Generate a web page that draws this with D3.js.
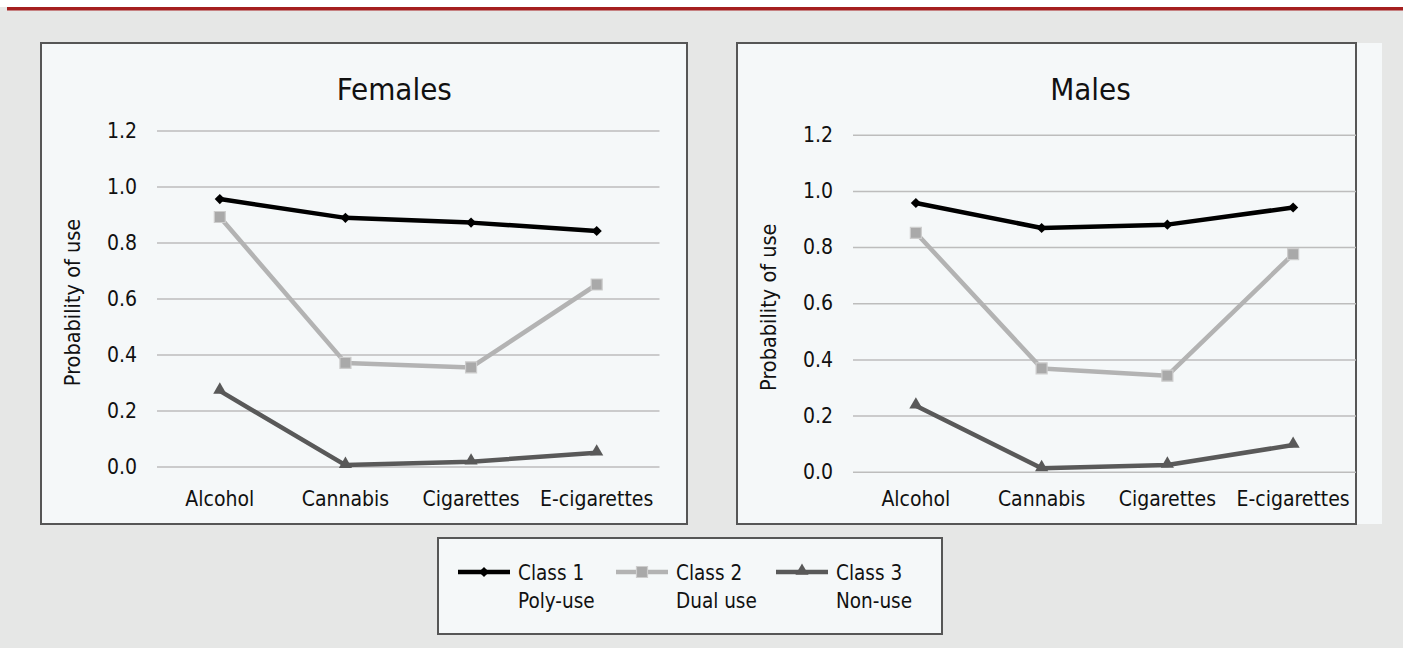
<!DOCTYPE html>
<html>
<head>
<meta charset="utf-8">
<script src="https://cdn.jsdelivr.net/npm/d3@7"></script>
<style>
  html, body { margin: 0; padding: 0; background: #e6e7e6; }
  svg { display: block; }
  text { font-family: "DejaVu Sans", sans-serif; font-stretch: condensed; fill: #111; }
</style>
</head>
<body>
<svg id="chart" width="1403" height="648"></svg>
<script>
// data
var categories = ["Alcohol", "Cannabis", "Cigarettes", "E-cigarettes"];
var yTicks = [0, 0.2, 0.4, 0.6, 0.8, 1.0, 1.2];
var classNames = ["Class 1", "Class 2", "Class 3"];
var classDesc = ["Poly-use", "Dual use", "Non-use"];

var femalesClass1 = [0.955, 0.888, 0.871, 0.841];
var femalesClass2 = [0.891, 0.370, 0.354, 0.650];
var femalesClass3 = [0.270, 0.005, 0.017, 0.049];

var malesClass1 = [0.957, 0.868, 0.880, 0.941];
var malesClass2 = [0.851, 0.368, 0.342, 0.775];
var malesClass3 = [0.235, 0.012, 0.024, 0.095];

var styles = [
	{ line: "#000000", marker: "diamond", fill: "#000000", stroke: "none" },
	{ line: "#b3b3b3", marker: "square", fill: "#a9a9a9", stroke: "#cdcdcd" },
	{ line: "#595959", marker: "triangle", fill: "#595959", stroke: "none" }
];

var svg = d3.select("#chart");

// top rule
svg.append("rect").attr("x", 0).attr("y", 0).attr("width", 1403).attr("height", 7).attr("fill", "#ffffff");
svg.append("rect").attr("x", 7).attr("y", 7).attr("width", 1396).attr("height", 3.5).attr("fill", "#a51f1f");

function marker(sel, type) {
	if (type === "diamond") {
		sel.attr("d", d3.symbol().type(d3.symbolSquare).size(52)())
			.attr("transform", function(d) { return "translate(" + d.x + "," + d.y + ") rotate(45)"; });
	} else if (type === "square") {
		sel.attr("d", d3.symbol().type(d3.symbolSquare).size(121)())
			.attr("transform", function(d) { return "translate(" + d.x + "," + d.y + ")"; });
	} else {
		sel.attr("d", d3.symbol().type(d3.symbolTriangle).size(75)())
			.attr("transform", function(d) { return "translate(" + d.x + "," + (d.y - 1) + ")"; });
	}
}

function drawPanel(opt) {
	var g = svg.append("g");
	// panel background and frame
	g.append("rect")
		.attr("x", opt.px).attr("y", opt.py)
		.attr("width", opt.fillW).attr("height", opt.ph)
		.attr("fill", "#f5f8f9");
	g.append("rect")
		.attr("x", opt.px).attr("y", opt.py)
		.attr("width", opt.pw).attr("height", opt.ph)
		.attr("fill", "none").attr("stroke", "#565656").attr("stroke-width", 2);

	var x = d3.scaleBand().domain(categories).range([opt.x0, opt.x1]).padding(0);
	var y = d3.scaleLinear().domain([0, 1.2]).range([opt.y0, opt.y12]);

	// gridlines + tick labels
	var yAxis = g.append("g")
		.attr("transform", "translate(" + opt.x0 + ",0)")
		.call(d3.axisLeft(y).tickValues(yTicks).tickFormat(d3.format(".1f"))
			.tickSize(-(opt.x1 - opt.x0)).tickPadding(20));
	yAxis.select(".domain").remove();
	yAxis.selectAll(".tick line").attr("stroke", "#bdbdbd").attr("stroke-width", 1.5);
	yAxis.selectAll(".tick text").attr("font-size", 21).attr("font-family", null).attr("fill", "#111");

	// category labels
	var xAxis = g.append("g")
		.attr("transform", "translate(0," + opt.labelY + ")")
		.call(d3.axisBottom(x).tickSize(0).tickPadding(0));
	xAxis.select(".domain").remove();
	xAxis.selectAll(".tick text").attr("font-size", 21).attr("font-family", null).attr("dy", 0).attr("fill", "#111");

	// title
	g.append("text")
		.attr("x", (opt.x0 + opt.x1) / 2 - 14).attr("y", 100)
		.attr("text-anchor", "middle").attr("font-size", 31)
		.text(opt.title);

	// y axis title
	g.append("text")
		.attr("transform", "translate(" + (opt.px + 39) + "," + ((opt.y0 + opt.y12) / 2 + 4) + ") rotate(-90)")
		.attr("text-anchor", "middle").attr("font-size", 21.5)
		.text("Probability of use");

	var line = d3.line()
		.x(function(d) { return d.x; })
		.y(function(d) { return d.y; });

	opt.series.forEach(function(vals, i) {
		var pts = vals.map(function(v, j) {
			return { x: x(categories[j]) + x.bandwidth() / 2, y: y(v) };
		});
		g.append("path")
			.datum(pts)
			.attr("d", line)
			.attr("fill", "none")
			.attr("stroke", styles[i].line)
			.attr("stroke-width", 4.5)
			.attr("stroke-linejoin", "round");
		g.selectAll(".m" + i)
			.data(pts)
			.enter()
			.append("path")
			.attr("class", "m" + i)
			.attr("fill", styles[i].fill)
			.attr("stroke", styles[i].stroke)
			.attr("stroke-width", 1.2)
			.call(marker, styles[i].marker);
	});
}

drawPanel({
	title: "Females",
	px: 41, py: 43, pw: 646, fillW: 646, ph: 481,
	x0: 157, x1: 659.5, y0: 466.5, y12: 130.5, labelY: 506,
	series: [femalesClass1, femalesClass2, femalesClass3]
});

drawPanel({
	title: "Males",
	px: 737, py: 43, pw: 619, fillW: 645, ph: 481,
	x0: 853, x1: 1356, y0: 471.7, y12: 134.8, labelY: 506,
	series: [malesClass1, malesClass2, malesClass3]
});

// legend
var legend = svg.append("g");
legend.append("rect")
	.attr("x", 438).attr("y", 538).attr("width", 504).attr("height", 96)
	.attr("fill", "#f5f8f9").attr("stroke", "#565656").attr("stroke-width", 2);

var legendX = [458, 616, 776];
var items = legend.selectAll(".item")
	.data(classNames)
	.enter()
	.append("g")
	.attr("class", "item")
	.attr("transform", function(d, i) { return "translate(" + legendX[i] + ",572)"; });
items.append("line")
	.attr("x1", 0).attr("x2", 52).attr("y1", 0).attr("y2", 0)
	.attr("stroke", function(d, i) { return styles[i].line; })
	.attr("stroke-width", 4.5);
items.each(function(d, i) {
	d3.select(this).selectAll(".lm")
		.data([{ x: 26, y: 0 }])
		.enter()
		.append("path")
		.attr("class", "lm")
		.attr("fill", styles[i].fill)
		.attr("stroke", styles[i].stroke)
		.attr("stroke-width", 1.2)
		.call(marker, styles[i].marker);
});
items.append("text")
	.attr("x", 60).attr("y", 8)
	.attr("font-size", 20.5)
	.text(function(d) { return d; });
items.append("text")
	.attr("x", 60).attr("y", 36)
	.attr("font-size", 20.5)
	.text(function(d, i) { return classDesc[i]; });
</script>
</body>
</html>
